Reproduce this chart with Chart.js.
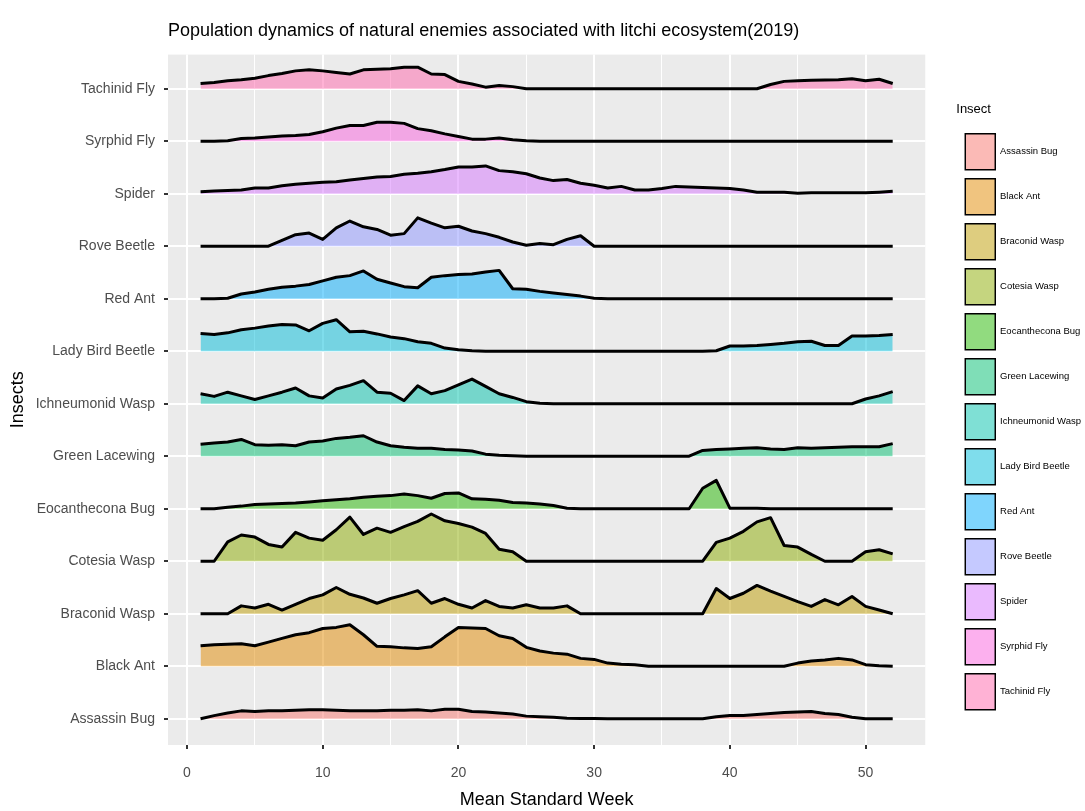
<!DOCTYPE html>
<html>
<head>
<meta charset="utf-8">
<script src="https://cdn.jsdelivr.net/npm/chart.js@4"></script>
<style>
body{margin:0;background:#fff;}
</style>
</head>
<body>
<canvas id="ridgeChart" width="1085" height="811"></canvas>
<script>
const weeks = [1,2,3,4,5,6,7,8,9,10,11,12,13,14,15,16,17,18,19,20,21,22,23,24,25,26,
               27,28,29,30,31,32,33,34,35,36,37,38,39,40,41,42,43,44,45,46,47,48,49,50,51,52];

const insects = ["Assassin Bug","Black Ant","Braconid Wasp","Cotesia Wasp","Eocanthecona Bug",
                 "Green Lacewing","Ichneumonid Wasp","Lady Bird Beetle","Red Ant","Rove Beetle",
                 "Spider","Syrphid Fly","Tachinid Fly"];

// ridge heights per week (1 = one row spacing)
const assassinBug = [0,0.06,0.11,0.15,0.14,0.15,0.15,0.16,0.17,0.17,
                     0.16,0.15,0.15,0.15,0.16,0.16,0.17,0.15,0.18,0.18,
                     0.14,0.13,0.11,0.09,0.05,0.04,0.03,0.01,0.005,0.005,
                     0,0,0,0,0,0,0,0,0.04,0.06,
                     0.06,0.08,0.1,0.12,0.13,0.14,0.1,0.08,0.03,0,0,0];
const blackAnt = [0.39,0.41,0.42,0.43,0.39,0.46,0.53,0.6,0.64,0.72,
                  0.74,0.79,0.6,0.38,0.37,0.35,0.34,0.37,0.56,0.74,
                  0.73,0.72,0.58,0.53,0.36,0.29,0.25,0.23,0.15,0.13,
                  0.06,0.04,0.03,0,0,0,0,0,0,0,
                  0,0,0,0,0.06,0.1,0.12,0.15,0.12,0.03,0.01,0];
const braconidWasp = [0,0,0,0.15,0.11,0.18,0.07,0.18,0.29,0.36,
                      0.5,0.37,0.3,0.2,0.29,0.36,0.44,0.2,0.29,0.18,
                      0.11,0.25,0.14,0.11,0.17,0.11,0.11,0.15,0,0,
                      0,0,0,0,0,0,0,0,0.48,0.29,
                      0.39,0.54,0.43,0.33,0.23,0.14,0.27,0.17,0.33,0.14,0.07,0];
const cotesiaWasp = [0,0,0.37,0.5,0.46,0.32,0.27,0.55,0.44,0.4,
                     0.6,0.84,0.51,0.63,0.55,0.66,0.76,0.9,0.77,0.72,
                     0.65,0.53,0.23,0.18,0,0,0,0,0,0,
                     0,0,0,0,0,0,0,0,0.36,0.44,
                     0.57,0.75,0.83,0.3,0.27,0.13,0,0,0,0.18,0.22,0.14];
const eocantheconaBug = [0,0,0.03,0.05,0.08,0.09,0.1,0.11,0.13,0.15,
                         0.17,0.19,0.22,0.24,0.25,0.28,0.25,0.2,0.29,0.3,
                         0.19,0.18,0.16,0.12,0.11,0.09,0.06,0.01,0,0,
                         0,0,0,0,0,0,0,0.39,0.54,0.01,
                         0.01,0.01,0,0,0,0,0,0,0,0,0,0];
const greenLacewing = [0.23,0.25,0.27,0.32,0.22,0.21,0.22,0.2,0.27,0.29,
                       0.34,0.36,0.39,0.27,0.2,0.17,0.15,0.15,0.13,0.12,
                       0.1,0.04,0.02,0.01,0,0,0,0,0,0,
                       0,0,0,0,0,0,0,0.11,0.13,0.14,
                       0.15,0.16,0.14,0.13,0.16,0.15,0.16,0.17,0.18,0.18,0.18,0.24];
const ichneumonidWasp = [0.19,0.14,0.22,0.15,0.08,0.15,0.22,0.3,0.15,0.11,
                         0.28,0.35,0.44,0.22,0.2,0.06,0.34,0.19,0.25,0.36,
                         0.47,0.33,0.19,0.12,0.04,0.01,0,0,0,0,
                         0,0,0,0,0,0,0,0,0,0,
                         0,0,0,0,0,0,0,0,0,0.09,0.15,0.23];
const ladyBirdBeetle = [0.34,0.32,0.35,0.41,0.44,0.48,0.51,0.5,0.39,0.53,
                        0.6,0.37,0.38,0.33,0.27,0.24,0.18,0.15,0.06,0.03,
                        0.01,0,0,0,0,0,0,0,0,0,
                        0,0,0,0,0,0,0,0,0.01,0.1,
                        0.1,0.11,0.13,0.15,0.18,0.19,0.11,0.11,0.29,0.29,0.3,0.32];
const redAnt = [0,0,0.01,0.09,0.13,0.18,0.22,0.24,0.27,0.34,
                0.41,0.44,0.53,0.37,0.3,0.23,0.21,0.41,0.44,0.46,
                0.47,0.51,0.54,0.19,0.18,0.14,0.11,0.08,0.05,0.01,
                0,0,0,0,0,0,0,0,0,0,
                0,0,0,0,0,0,0,0,0,0,0,0];
const roveBeetle = [0,0,0,0,0,0,0.11,0.22,0.25,0.13,
                    0.35,0.48,0.37,0.32,0.21,0.24,0.54,0.44,0.35,0.38,
                    0.29,0.24,0.17,0.08,0.02,0.05,0.03,0.13,0.2,0,
                    0,0,0,0,0,0,0,0,0,0,
                    0,0,0,0,0,0,0,0,0,0,0,0];
const spider = [0.04,0.05,0.06,0.07,0.11,0.11,0.15,0.18,0.2,0.22,
                0.23,0.26,0.29,0.32,0.33,0.37,0.39,0.42,0.46,0.51,
                0.51,0.53,0.44,0.42,0.38,0.3,0.25,0.27,0.2,0.16,
                0.11,0.14,0.07,0.07,0.1,0.14,0.13,0.12,0.11,0.1,
                0.07,0.03,0.03,0.03,0.01,0.02,0.02,0.02,0.02,0.02,0.03,0.045];
const syrphidFly = [0,0,0.01,0.05,0.06,0.08,0.1,0.11,0.13,0.18,
                    0.25,0.3,0.3,0.36,0.36,0.34,0.24,0.2,0.14,0.09,
                    0.04,0.04,0.06,0.03,0.01,0,0,0,0,0,
                    0,0,0,0,0,0,0,0,0,0,
                    0,0,0,0,0,0,0,0,0,0,0,0];
const tachinidFly = [0.1,0.12,0.15,0.17,0.2,0.25,0.29,0.34,0.36,0.34,
                     0.31,0.28,0.36,0.37,0.38,0.41,0.41,0.28,0.27,0.14,
                     0.09,0.03,0.06,0.04,0,0,0,0,0,0,
                     0,0,0,0,0,0,0,0,0,0,
                     0,0,0.08,0.14,0.15,0.16,0.165,0.17,0.19,0.15,0.18,0.1];

const ridgeHeights = [assassinBug, blackAnt, braconidWasp, cotesiaWasp, eocantheconaBug,
                      greenLacewing, ichneumonidWasp, ladyBirdBeetle, redAnt, roveBeetle,
                      spider, syrphidFly, tachinidFly];

const xTicks = [0,5,10,15,20,25,30,35,40,45,50];

const fillColors = [
  "rgba(248,118,109,0.5)", "rgba(225,138,0,0.5)", "rgba(190,156,0,0.5)",
  "rgba(140,171,0,0.5)", "rgba(36,183,0,0.5)", "rgba(0,190,112,0.5)",
  "rgba(0,193,171,0.5)", "rgba(0,187,218,0.5)", "rgba(0,172,252,0.5)",
  "rgba(139,147,255,0.5)", "rgba(213,117,254,0.5)", "rgba(249,98,221,0.5)",
  "rgba(255,101,172,0.5)"
];

Chart.defaults.font.family = "'Liberation Sans', Arial, sans-serif";

// grey panel like ggplot
const panelBg = {
  id: "panelBg",
  beforeDraw(chart) {
    const {ctx, chartArea: a} = chart;
    ctx.save();
    ctx.fillStyle = "#EBEBEB";
    ctx.fillRect(a.left, a.top, a.right - a.left, a.bottom - a.top);
    ctx.restore();
  }
};

// push legend a bit away from the panel
const legendShift = {
  id: "legendShift",
  afterLayout(chart) {
    const lg = chart.legend;
    lg.left += 31;
    lg.right += 31;
  }
};

const ctx = document.getElementById("ridgeChart");

new Chart(ctx, {
  type: "line",
  data: {
    datasets: insects.map((name, i) => ({
      label: name,
      data: weeks.map((w, k) => ({x: w, y: i + ridgeHeights[i][k]})),
      fill: {value: i},
      backgroundColor: fillColors[i],
      borderColor: "#000000",
      borderWidth: 3,
      borderJoinStyle: "round",
      pointRadius: 0,
      tension: 0
    }))
  },
  options: {
    responsive: false,
    animation: false,
    layout: {
      padding: {top: 5, left: 6, right: 25, bottom: 0}
    },
    plugins: {
      tooltip: {enabled: false},
      title: {
        display: true,
        text: "Population dynamics of natural enemies associated with litchi ecosystem(2019)",
        align: "start",
        fullSize: false,
        color: "#000000",
        font: {size: 18, weight: "normal"},
        padding: {top: 15, bottom: 13}
      },
      legend: {
        position: "right",
        align: "center",
        title: {
          display: true,
          text: "Insect",
          position: "start",
          color: "#000000",
          font: {size: 13},
          padding: 6
        },
        labels: {
          boxWidth: 30,
          boxHeight: 36,
          padding: 9,
          color: "#1A1A1A",
          font: {size: 9.5},
          generateLabels: chart => chart.data.datasets.map((ds, i) => ({
            text: ds.label,
            fillStyle: ds.backgroundColor,
            strokeStyle: "#000000",
            lineWidth: 1.5,
            hidden: false,
            datasetIndex: i
          }))
        }
      }
    },
    scales: {
      x: {
        type: "linear",
        min: -1.4,
        max: 54.4,
        afterBuildTicks: s => { s.ticks = xTicks.map(v => ({value: v})); },
        afterFit: s => { s.height = 66; },
        border: {display: false},
        grid: {
          color: "#FFFFFF",
          lineWidth: c => (c.tick && c.tick.value % 10 === 0) ? 2 : 1,
          tickColor: c => (c.tick && c.tick.value % 10 === 0) ? "#333333" : "rgba(0,0,0,0)",
          tickLength: 4
        },
        ticks: {
          color: "#4D4D4D",
          font: {size: 14},
          padding: 16,
          autoSkip: false,
          maxRotation: 0,
          callback: v => v % 10 === 0 ? v : ""
        },
        title: {
          display: true,
          text: "Mean Standard Week",
          color: "#000000",
          font: {size: 18},
          padding: {top: 0, bottom: 0}
        }
      },
      y: {
        type: "linear",
        min: -0.5,
        max: 12.65,
        afterBuildTicks: s => { s.ticks = insects.map((n, i) => ({value: i})); },
        afterFit: s => { s.width = 162; },
        border: {display: false},
        grid: {
          color: "#FFFFFF",
          lineWidth: 2,
          tickColor: "#333333",
          tickLength: 4
        },
        ticks: {
          color: "#4D4D4D",
          font: {size: 14},
          padding: 9,
          autoSkip: false,
          callback: v => insects[v]
        },
        title: {
          display: true,
          text: "Insects",
          color: "#000000",
          font: {size: 18},
          padding: {top: 1, bottom: 0}
        }
      }
    }
  },
  plugins: [panelBg, legendShift]
});
</script>
</body>
</html>
